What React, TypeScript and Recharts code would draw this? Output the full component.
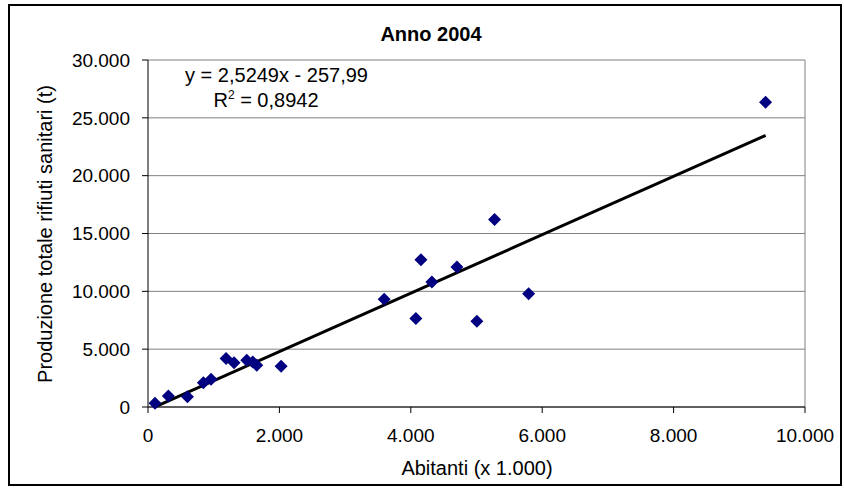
import React from 'react';
import { ScatterChart, Scatter, XAxis, YAxis, CartesianGrid, ReferenceLine } from 'recharts';

const abitanti = [107, 310, 600, 843, 960, 1188, 1310, 1503, 1594, 1655, 2026, 3595, 4077, 4154, 4321, 4702, 5006, 5275, 5793, 9400];
const rifiuti = [320, 950, 890, 2100, 2390, 4200, 3820, 4050, 3900, 3620, 3530, 9310, 7650, 12730, 10800, 12100, 7410, 16200, 9800, 26350];
const xTicks = [0, 2000, 4000, 6000, 8000, 10000];
const yTicks = [0, 5000, 10000, 15000, 20000, 25000, 30000];
const slope = 2.5249;
const intercept = -257.99;
const titleText = 'Anno 2004';
const xTitle = 'Abitanti (x 1.000)';
const yTitle = 'Produzione totale rifiuti sanitari (t)';
const eqText = 'y = 2,5249x - 257,99';
const r2Value = ' = 0,8942';

const data = abitanti.map((x, i) => ({ x, y: rifiuti[i] }));
const xMin = Math.min(...abitanti);
const xMax = Math.max(...abitanti);
const trend = [
  { x: xMin, y: slope * xMin + intercept },
  { x: xMax, y: slope * xMax + intercept },
];

const fmt = (v: number) => String(v).replace(/\B(?=(\d{3})+(?!\d))/g, '.');
const FONT = '"Liberation Sans", Arial, sans-serif';

const Diamond = (props: any) => {
  const { cx, cy } = props;
  const r = 6.5;
  return <polygon points={`${cx},${cy - r} ${cx + r},${cy} ${cx},${cy + r} ${cx - r},${cy}`} fill="#000080" />;
};

export default function App() {
  return (
    <div style={{ position: 'absolute', left: 0, top: 0, width: 844, height: 488, background: '#fff' }}>
      <ScatterChart width={844} height={488} margin={{ top: 60, right: 39, bottom: 31, left: 0 }}>
        <CartesianGrid vertical={false} stroke="#808080" strokeWidth={1} />
        <XAxis
          type="number"
          dataKey="x"
          domain={[0, 10000]}
          ticks={xTicks}
          tickFormatter={fmt}
          height={50}
          axisLine={{ stroke: '#000', strokeWidth: 1 }}
          tickLine={{ stroke: '#000' }}
          tickSize={6}
          tickMargin={16}
          tick={{ fill: '#000', fontSize: 19, fontFamily: FONT }}
          interval={0}
        />
        <YAxis
          type="number"
          dataKey="y"
          domain={[0, 30000]}
          ticks={yTicks}
          tickFormatter={fmt}
          width={148}
          axisLine={{ stroke: '#000', strokeWidth: 1 }}
          tickLine={{ stroke: '#000' }}
          tickSize={6}
          tickMargin={12}
          tick={{ fill: '#000', fontSize: 19, fontFamily: FONT }}
          interval={0}
        />
        <ReferenceLine x={10000} stroke="#808080" strokeWidth={1} />
        <Scatter data={data} shape={Diamond} isAnimationActive={false} />
        <ReferenceLine segment={trend} stroke="#000" strokeWidth={3} />
      </ScatterChart>
      <svg width={844} height={488} style={{ position: 'absolute', left: 0, top: 0, pointerEvents: 'none' }}>
        <rect x={9} y={5} width={832} height={480} fill="none" stroke="#000" strokeWidth={2} />
        <text x={431} y={40.5} textAnchor="middle" fontFamily={FONT} fontSize={20} fontWeight="bold" fill="#000">{titleText}</text>
        <text x={276.5} y={82} textAnchor="middle" fontFamily={FONT} fontSize={20} fill="#000">{eqText}</text>
        <text x={266} y={107} textAnchor="middle" fontFamily={FONT} fontSize={20} fill="#000">
          R<tspan fontSize={12} dy={-8}>2</tspan><tspan dy={8}>{r2Value}</tspan>
        </text>
        <text x={477} y={475} textAnchor="middle" fontFamily={FONT} fontSize={20} fill="#000">{xTitle}</text>
        <text transform="translate(52,234) rotate(-90)" textAnchor="middle" fontFamily={FONT} fontSize={20} fill="#000">{yTitle}</text>
      </svg>
    </div>
  );
}
